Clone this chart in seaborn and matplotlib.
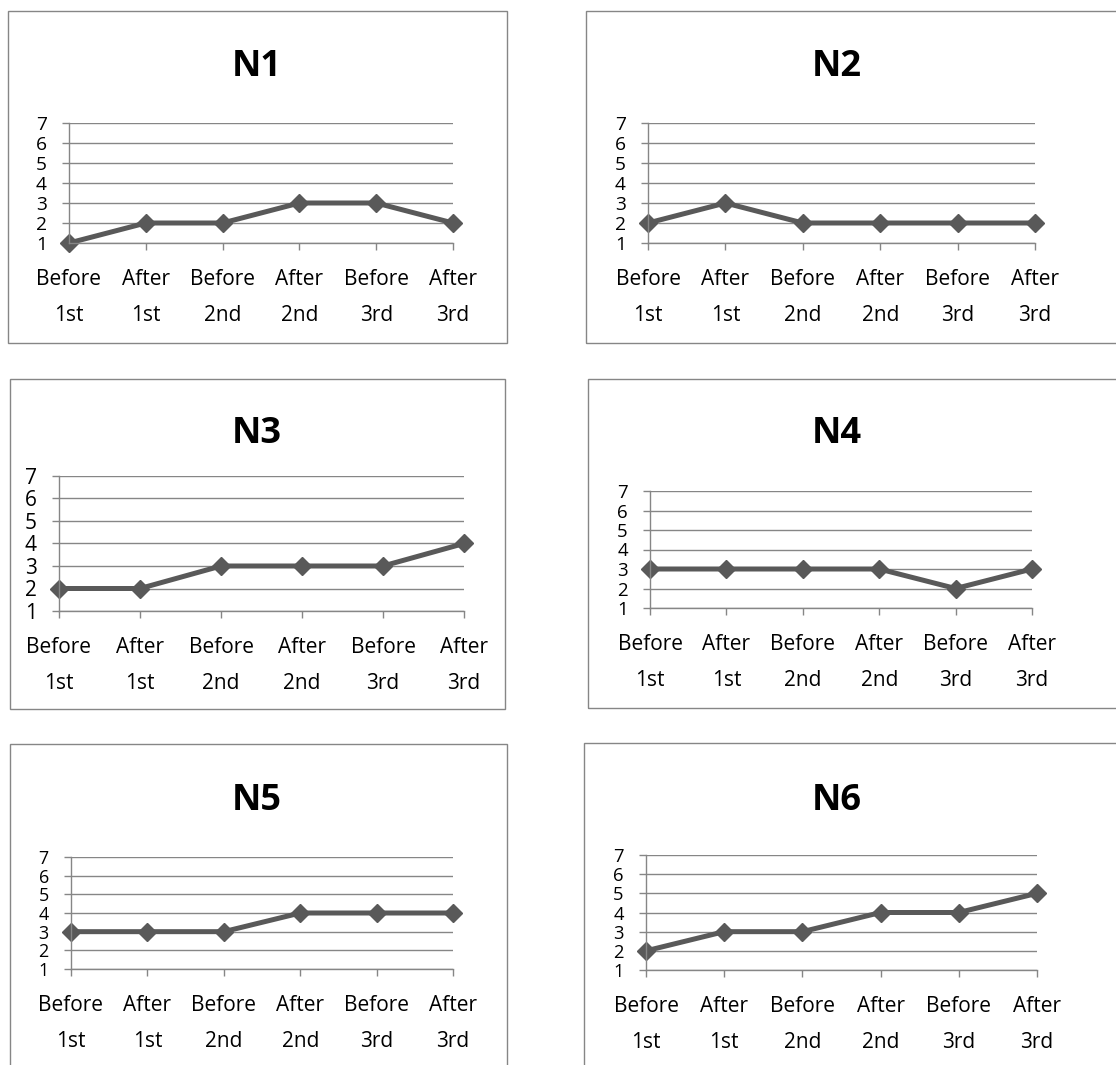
import matplotlib
matplotlib.use("Agg")
import matplotlib.pyplot as plt
from matplotlib.patches import Rectangle
import pandas as pd
import seaborn as sns

# Survey stages and the score of each participant at every stage
stages = ["Before\n1st", "After\n1st", "Before\n2nd", "After\n2nd", "Before\n3rd", "After\n3rd"]
n1 = [1, 2, 2, 3, 3, 2]
n2 = [2, 3, 2, 2, 2, 2]
n3 = [2, 2, 3, 3, 3, 4]
n4 = [3, 3, 3, 3, 2, 3]
n5 = [3, 3, 3, 4, 4, 4]
n6 = [2, 3, 3, 4, 4, 5]
names = ["N1", "N2", "N3", "N4", "N5", "N6"]
series = [n1, n2, n3, n4, n5, n6]
y_ticks = [1, 2, 3, 4, 5, 6, 7]

sns.set_theme(style="white")
plt.rcParams["font.family"] = ["Open Sans", "DejaVu Sans"]

W, H = 1116, 1065
fig = plt.figure(figsize=(W / 100, H / 100), dpi=100)

GRID = "#868686"
LINE = "#595959"

# layout in pixels: plot area (left, right, top, bottom), frame box, title anchor
plot_px = [
    (69, 453, 123, 243),
    (648, 1035, 123, 243),
    (59, 464, 476, 611),
    (650, 1032, 491, 608),
    (71, 453, 857, 969),
    (646, 1037, 855, 970),
]
box_px = [
    (8, 11, 507, 343),
    (586, 11, 1122, 343),
    (10, 379, 505, 709),
    (588, 379, 1122, 708),
    (10, 744, 507, 1072),
    (584, 743, 1122, 1072),
]
title_px = [(257, 76), (837, 76), (257, 443), (837, 443), (257, 810), (837, 810)]

for name, vals, (l, r, t, b), (bl, bt, br, bb), (tx, ty) in zip(
        names, series, plot_px, box_px, title_px):
    fig.add_artist(Rectangle((bl / W, 1 - bb / H), (br - bl) / W, (bb - bt) / H,
                             transform=fig.transFigure, fill=False,
                             edgecolor=GRID, linewidth=1.0))
    fig.text(tx / W, 1 - ty / H, name, ha="center", va="baseline",
             fontsize=26, fontweight="bold", color="black")

    ax = fig.add_axes([l / W, 1 - b / H, (r - l) / W, (b - t) / H])
    df = pd.DataFrame({"stage": stages, "score": vals})
    sns.lineplot(data=df, x="stage", y="score", ax=ax, color=LINE,
                 linewidth=3.6, marker="D", markersize=9.5,
                 markeredgecolor=LINE, markeredgewidth=1, clip_on=False,
                 sort=False)
    ax.set_xlim(0, 5)
    ax.set_ylim(1, 7)
    ax.set_yticks(y_ticks)
    ax.set_yticklabels([str(v) for v in y_ticks])
    ax.set_xticks(range(len(stages)))
    ax.set_xticklabels(stages)
    ax.set_xlabel("")
    ax.set_ylabel("")
    ax.set_facecolor("none")
    ax.yaxis.grid(True, color=GRID, linewidth=1.0)
    ax.xaxis.grid(False)
    ax.set_axisbelow(True)
    for side in ("top", "right"):
        ax.spines[side].set_visible(False)
    for side in ("left", "bottom"):
        ax.spines[side].set_visible(True)
        ax.spines[side].set_color(GRID)
        ax.spines[side].set_linewidth(1.0)

    # y labels sized to fit the spacing between gridlines of this panel
    pitch_px = (b - t) / (len(y_ticks) - 1)
    ysize = min(15.0, pitch_px * 0.69)
    ax.tick_params(axis="x", direction="out", length=5, width=1, color=GRID,
                   labelsize=15, labelcolor="black", pad=14, bottom=True)
    ax.tick_params(axis="y", direction="out", length=5, width=1, color=GRID,
                   labelsize=ysize, labelcolor="black", pad=11, left=True)
    for lbl in ax.get_xticklabels():
        lbl.set_linespacing(1.9)

fig.savefig("out.png", dpi=100, facecolor="white")
